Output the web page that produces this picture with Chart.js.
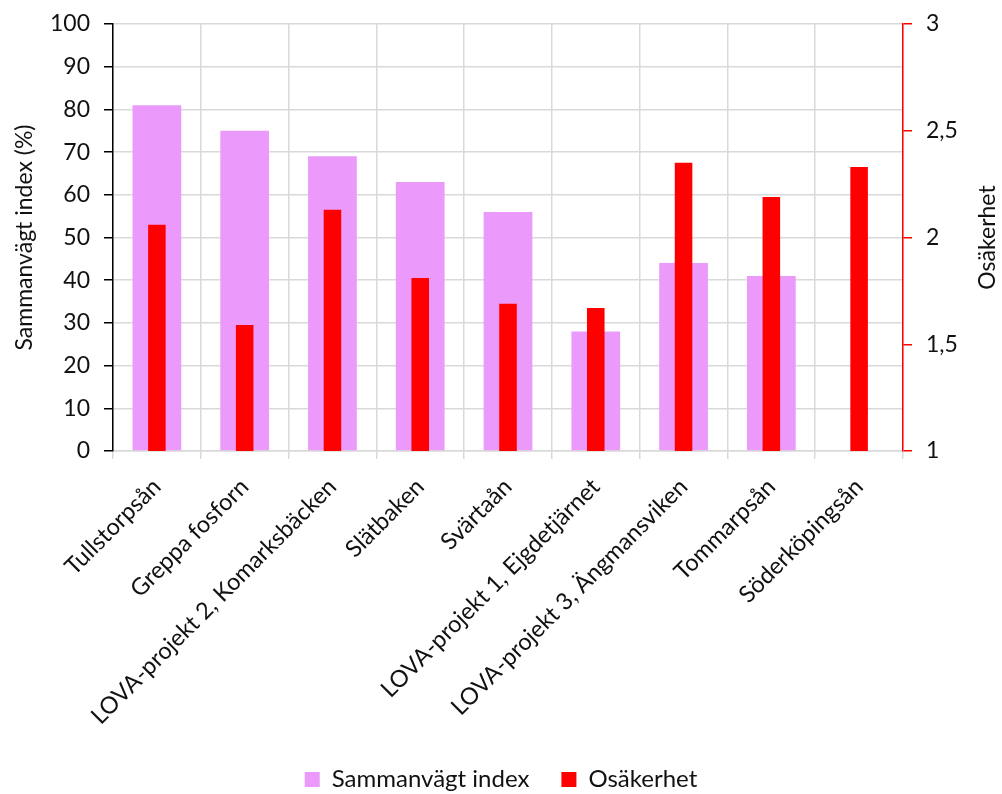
<!DOCTYPE html>
<html>
<head>
<meta charset="utf-8">
<script src="https://cdn.jsdelivr.net/npm/chart.js@4.4.1/dist/chart.umd.min.js"></script>
<style>
  html, body { margin: 0; padding: 0; background: #fff; }
  #wrap { width: 1002px; height: 794px; }
</style>
</head>
<body>
<div id="wrap"><canvas id="c" width="1002" height="794"></canvas></div>
<script>
const categories = [
  'Tullstorpsån',
  'Greppa fosforn',
  'LOVA-projekt 2, Komarksbäcken',
  'Slätbaken',
  'Svärtaån',
  'LOVA-projekt 1, Ejgdetjärnet',
  'LOVA-projekt 3, Ängmansviken',
  'Tommarpsån',
  'Söderköpingsån'
];
const indexValues = [81, 75, 69, 63, 56, 28, 44, 41, null];
const uncertaintyValues = [2.06, 1.59, 2.13, 1.81, 1.69, 1.67, 2.35, 2.19, 2.33];
const leftTicks = [0, 10, 20, 30, 40, 50, 60, 70, 80, 90, 100];
const rightTicks = [1, 1.5, 2, 2.5, 3];

const FONT = 'Lato, "Open Sans", sans-serif';
const TEXT = '#111';
const GRID = '#d9d9d9';

// Right-hand axis title, read bottom-to-top
const rightTitle = {
  id: 'rightTitle',
  afterDraw(chart) {
    const ctx = chart.ctx;
    const area = chart.chartArea;
    ctx.save();
    ctx.translate(988, (area.top + area.bottom) / 2);
    ctx.rotate(-Math.PI / 2);
    ctx.font = '23px ' + FONT;
    ctx.fillStyle = TEXT;
    ctx.textAlign = 'center';
    ctx.textBaseline = 'middle';
    ctx.fillText('Osäkerhet', 0, 0);
    ctx.restore();
  }
};

// Fixed width for a value axis; keep its end-label overhang small
function fitValueAxis(width) {
  return scale => {
    scale.width = width;
    scale.paddingTop = 12;
    scale.paddingBottom = 12;
  };
}

new Chart(document.getElementById('c'), {
  type: 'bar',
  data: {
    labels: categories,
    datasets: [
      {
        label: 'Sammanvägt index',
        data: indexValues,
        yAxisID: 'y',
        backgroundColor: '#eb9afb',
        grouped: false,
        barPercentage: 0.555,
        categoryPercentage: 1,
        order: 2
      },
      {
        label: 'Osäkerhet',
        data: uncertaintyValues,
        yAxisID: 'y2',
        backgroundColor: '#ff0000',
        grouped: false,
        barPercentage: 0.2,
        categoryPercentage: 1,
        order: 1
      }
    ]
  },
  options: {
    responsive: false,
    animation: false,
    layout: { padding: { top: 24, left: 0, right: 0, bottom: -7.5 } },
    plugins: {
      tooltip: { enabled: false },
      legend: {
        position: 'bottom',
        labels: {
          font: { family: FONT, size: 24 },
          color: TEXT,
          boxWidth: 15,
          boxHeight: 15,
          padding: 32,
          sort: (a, b) => a.datasetIndex - b.datasetIndex
        }
      }
    },
    scales: {
      x: {
        grid: {
          color: GRID,
          lineWidth: 1.5,
          offset: true,
          drawTicks: true,
          tickLength: 8
        },
        border: { color: GRID, width: 1.5 },
        ticks: {
          font: { family: FONT, size: 23.5 },
          color: TEXT,
          minRotation: 45,
          maxRotation: 45,
          autoSkip: false,
          padding: 14
        },
        afterFit(scale) { scale.height = 284.5; }
      },
      y: {
        position: 'left',
        min: 0,
        max: 100,
        afterBuildTicks(scale) { scale.ticks = leftTicks.map(v => ({ value: v })); },
        grid: {
          color: GRID,
          lineWidth: 1.5,
          tickColor: '#000',
          tickLength: 9
        },
        border: { color: '#000', width: 1.5 },
        ticks: {
          font: { family: FONT, size: 23 },
          color: TEXT,
          padding: 14
        },
        title: {
          display: true,
          text: 'Sammanvägt index (%)',
          font: { family: FONT, size: 23 },
          color: TEXT,
          padding: { top: 11, bottom: 0 }
        },
        afterFit: fitValueAxis(113)
      },
      y2: {
        position: 'right',
        min: 1,
        max: 3,
        afterBuildTicks(scale) { scale.ticks = rightTicks.map(v => ({ value: v })); },
        grid: {
          drawOnChartArea: false,
          color: '#ff0000',
          tickColor: '#ff0000',
          lineWidth: 1.5,
          tickLength: 9
        },
        border: { color: '#ff0000', width: 1.5 },
        ticks: {
          font: { family: FONT, size: 23 },
          color: TEXT,
          padding: 14,
          callback: v => String(v).replace('.', ',')
        },
        afterFit: fitValueAxis(99)
      }
    }
  },
  plugins: [rightTitle]
});
</script>
</body>
</html>
